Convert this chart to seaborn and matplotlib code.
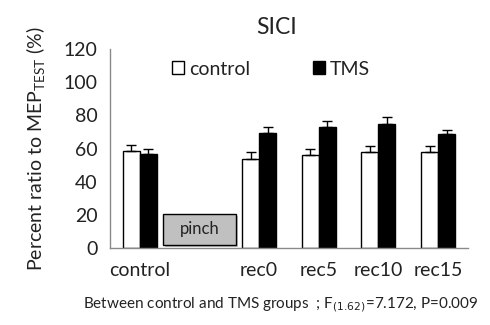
import numpy as np
import pandas as pd
import matplotlib
matplotlib.use("Agg")
from matplotlib import pyplot as plt
from matplotlib.patches import Rectangle
import seaborn as sns

# values
categories = ["control", "", "rec0", "rec5", "rec10", "rec15"]
data_cats = ["control", "rec0", "rec5", "rec10", "rec15"]
control_mean = [58.5, 53.8, 56.0, 57.8, 57.8]
control_err = [3.8, 4.0, 3.6, 3.6, 3.6]
tms_mean = [56.8, 69.5, 73.0, 74.8, 68.7]
tms_err = [2.8, 3.6, 3.6, 4.4, 2.6]
groups = ["control", "TMS"]

df = pd.DataFrame({
    "cat": data_cats * 2,
    "group": ["control"] * 5 + ["TMS"] * 5,
    "val": control_mean + tms_mean,
    "err": control_err + tms_err,
})

sns.set_style("white")
plt.rcParams["font.family"] = ["Lato", "DejaVu Sans"]
txt = "#222222"
axcol = "#8a8a8a"

fig = plt.figure(figsize=(4.9, 3.25), dpi=100)
ax = fig.add_axes([0.2245, 0.237, 0.7305, 0.612])

sns.barplot(data=df, x="cat", y="val", hue="group", order=categories,
            hue_order=groups, palette=["white", "black"], edgecolor="black",
            linewidth=1.0, width=0.57, errorbar=None, ax=ax, legend=True)

# one-sided error bars on top of each bar
for p in ax.patches:
    h = p.get_height()
    if not np.isfinite(h) or p.get_width() > 1:
        continue
    sub = df[np.isclose(df["val"], h)]
    if len(sub) == 0:
        continue
    xc = p.get_x() + p.get_width() / 2
    e = sub["err"].iloc[0]
    ax.errorbar(xc, h, yerr=[[0], [e]], fmt="none", ecolor="black",
                elinewidth=1.0, capsize=3.3, capthick=1.0)

ax.set_xlim(-0.5, 5.5)
ax.set_ylim(0, 120)
ax.set_yticks(range(0, 121, 20))
ax.set_xticks(range(6))
ax.set_xticklabels(categories)
ax.set_xticks(np.arange(-0.5, 5.6, 1), minor=True)
ax.tick_params(axis="x", which="major", length=0, pad=10, labelsize=14, labelcolor=txt)
ax.tick_params(axis="x", which="minor", length=5, width=1, color=axcol, direction="out")
ax.tick_params(axis="y", length=5, width=1, color=axcol, direction="out", labelsize=14,
               labelcolor=txt, pad=4)
for s in ["top", "right"]:
    ax.spines[s].set_visible(False)
for s in ["left", "bottom"]:
    ax.spines[s].set_color(axcol)
    ax.spines[s].set_linewidth(1)
ax.set_xlabel("")
ax.set_ylabel("Percent ratio to MEP$_{\\mathregular{TEST}}$ (%)", fontsize=14, color=txt,
              labelpad=11)

# pinch box with drop shadow
ax.add_patch(Rectangle((0.43, 0.6), 1.22, 18.5, facecolor="#9a9a9a", edgecolor="none",
                       alpha=0.6, zorder=4, clip_on=False))
ax.add_patch(Rectangle((0.39, 2.0), 1.22, 18.5, facecolor="#c0c0c0", edgecolor="black",
                       linewidth=1.0, zorder=5))
ax.text(1.0, 11.2, "pinch", ha="center", va="center", fontsize=12, color=txt, zorder=6)

leg = ax.legend(loc="upper center", bbox_to_anchor=(0.45, 1.03), ncol=2, frameon=False,
                fontsize=14, handlelength=0.65, handleheight=0.65, handletextpad=0.25,
                columnspacing=3.2)
for t in leg.get_texts():
    t.set_color(txt)

fig.text(0.565, 0.915, "SICI", ha="center", va="center", fontsize=16.5, color=txt)
fig.text(0.572, 0.062, "Between control and TMS groups  ; F$_{(1.62)}$=7.172, P=0.009",
         ha="center", va="center", fontsize=11, color=txt)

fig.savefig("out.png", dpi=100)
